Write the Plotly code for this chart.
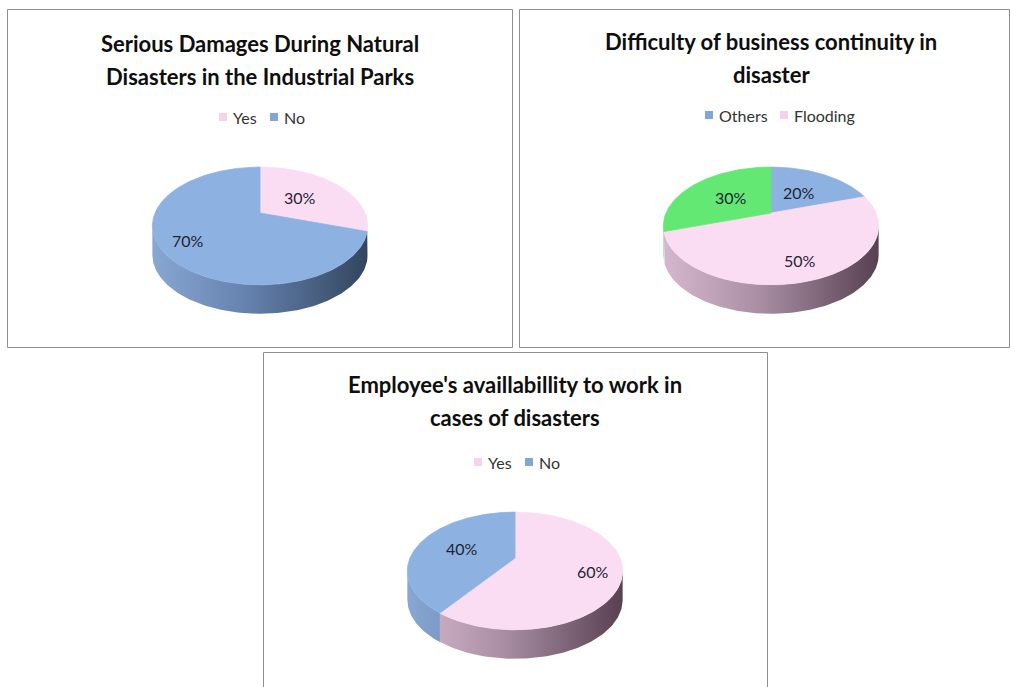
import numpy as np
import plotly.graph_objects as go

# ---------------------------------------------------------------- data
DAMAGE_TITLE = ["Serious Damages During Natural", "Disasters in the Industrial Parks"]
DAMAGE_LABELS = ["Yes", "No"]
DAMAGE_VALUES = [30, 70]

CONTINUITY_TITLE = ["Difficulty of business continuity in", "disaster"]
CONTINUITY_LABELS = ["Others", "Flooding", ""]
CONTINUITY_VALUES = [20, 50, 30]

AVAILABILITY_TITLE = ["Employee's availlabillity to work in", "cases of disasters"]
AVAILABILITY_LABELS = ["Yes", "No"]
AVAILABILITY_VALUES = [60, 40]

# ---------------------------------------------------------------- styles
FACE = {"pink": "#FADCF3", "blue": "#8DB2E1", "green": "#64E874"}
LEGEND_SWATCH = {"pink": "#F6D2EC", "blue": "#7FA6D8", "green": "#64E874"}
SIDE = {
    "pink": [[0, "#D6B8CE"], [0.45, "#A98EA3"], [1, "#574051"]],
    "blue": [[0, "#88A7D2"], [0.45, "#6381AC"], [1, "#33455E"]],
    "green": [[0, "#5CD66A"], [0.45, "#45B052"], [1, "#2C7534"]],
}
DAMAGE_COLORS = ["pink", "blue"]
CONTINUITY_COLORS = ["blue", "pink", "green"]
AVAILABILITY_COLORS = ["pink", "blue"]

TITLE_FONT = dict(family="Lato", size=22, color="#0E0E0E")
LEGEND_FONT = dict(family="Lato", size=16, color="#333333")
LABEL_FONT = dict(family="Lato", size=16, color="#1F2433")
BORDER = "#8E8E8E"

W, H = 1011, 687
# 3-D pie geometry (screen pixels): half-width, half-height, perspective, depth
SX, SY, K, DEPTH = 105, 56, 0.22, 29
SIDE_FROM = np.degrees(np.arccos(-K))
SIDE_TO = 360 - SIDE_FROM

CHARTS = [
    dict(title=DAMAGE_TITLE, labels=DAMAGE_LABELS, values=DAMAGE_VALUES,
         colors=DAMAGE_COLORS, box=(7.5, 9.5, 512.5, 347.5), center=(260, 213),
         title_y=(43, 76), legend_y=117, legend_x=(223, 274), label_r=(0.5, 0.76)),
    dict(title=CONTINUITY_TITLE, labels=CONTINUITY_LABELS, values=CONTINUITY_VALUES,
         colors=CONTINUITY_COLORS, box=(519.5, 9.5, 1009.5, 347.5), center=(771, 213),
         title_y=(41, 74), legend_y=115, legend_x=(709, 784), label_r=(0.5, 0.75, 0.5)),
    dict(title=AVAILABILITY_TITLE, labels=AVAILABILITY_LABELS, values=AVAILABILITY_VALUES,
         colors=AVAILABILITY_COLORS, box=(263.5, 352.5, 767.5, 720), center=(515, 558),
         title_y=(384, 417), legend_y=462, legend_x=(478, 529), label_r=(0.74, 0.55)),
]


def project(cx, cy, u, v, drop=0.0):
    """Perspective projection of a point (u, v) on the unit disk."""
    w = 1 - K * v
    return cx + SX * u / w, cy + SY * v / w + drop


def rim(cx, cy, a0, a1, drop=0.0):
    """Rim points between two angles (degrees clockwise from 12 o'clock)."""
    n = max(int(abs(a1 - a0) / 1.0) + 2, 3)
    t = np.radians(np.linspace(a0, a1, n))
    return project(cx, cy, np.sin(t), -np.cos(t), drop)


fig = go.Figure()
sides, faces, annotations, shapes = [], [], [], []

for ch in CHARTS:
    cx, cy = ch["center"]
    total = float(sum(ch["values"]))
    start = 0.0
    for label, value, color, lr in zip(ch["labels"], ch["values"], ch["colors"], ch["label_r"]):
        sweep = 360.0 * value / total
        a0, a1 = start, start + sweep
        start = a1

        # visible side wall of the slice
        s0, s1 = max(a0, SIDE_FROM), min(a1, SIDE_TO)
        if s1 > s0:
            tx, ty = rim(cx, cy, s0, s1)
            bx, by = rim(cx, cy, s1, s0, drop=DEPTH)
            sides.append(go.Scatter(
                x=np.concatenate([tx, bx, tx[:1]]), y=np.concatenate([ty, by, ty[:1]]),
                mode="lines", line=dict(width=0), fill="toself",
                fillcolor=SIDE[color][1][1],
                fillgradient=dict(type="horizontal", colorscale=SIDE[color],
                                  start=cx - SX * 1.03, stop=cx + SX * 1.03),
                hoverinfo="skip", showlegend=False))

        # top face of the slice
        fx, fy = rim(cx, cy, a0, a1)
        faces.append(go.Scatter(
            x=np.concatenate([[cx], fx, [cx]]), y=np.concatenate([[cy], fy, [cy]]),
            mode="lines", line=dict(width=0.8, color=FACE[color]), fill="toself",
            fillcolor=FACE[color], hoverinfo="skip", showlegend=False))

        # percentage label
        mid = np.radians((a0 + a1) / 2)
        lx, ly = project(cx, cy, lr * np.sin(mid), -lr * np.cos(mid))
        annotations.append(dict(x=lx, y=ly, xref="x", yref="y", showarrow=False,
                                text=f"{100 * value / total:.0f}%", font=LABEL_FONT,
                                xanchor="center", yanchor="middle"))

    # chart title, one annotation per line
    for line, ty in zip(ch["title"], ch["title_y"]):
        annotations.append(dict(x=cx, y=ty, xref="x", yref="y", showarrow=False,
                                text=f"<b>{line}</b>", font=TITLE_FONT,
                                xanchor="center", yanchor="middle"))

    # legend: swatch + text for each named category
    named = [(lab, col) for lab, col in zip(ch["labels"], ch["colors"]) if lab]
    for (lab, col), mx in zip(named, ch["legend_x"]):
        faces.append(go.Scatter(x=[mx], y=[ch["legend_y"]], mode="markers",
                                marker=dict(symbol="square", size=8,
                                            color=LEGEND_SWATCH[col]),
                                hoverinfo="skip", showlegend=False))
        annotations.append(dict(x=mx + 8, y=ch["legend_y"], xref="x", yref="y",
                                showarrow=False, text=lab, font=LEGEND_FONT,
                                xanchor="left", yanchor="middle"))

    # panel frame
    x0, y0, x1, y1 = ch["box"]
    shapes.append(dict(type="rect", xref="x", yref="y", x0=x0, y0=y0, x1=x1, y1=y1,
                       line=dict(color=BORDER, width=1), fillcolor="rgba(0,0,0,0)",
                       layer="below"))

for tr in sides + faces:
    fig.add_trace(tr)

fig.update_layout(
    width=W, height=H,
    margin=dict(l=0, r=0, t=0, b=0),
    paper_bgcolor="white", plot_bgcolor="white",
    xaxis=dict(range=[0, W], visible=False, fixedrange=True),
    yaxis=dict(range=[H, 0], visible=False, fixedrange=True),
    annotations=annotations, shapes=shapes,
    showlegend=False,
)

fig.write_html("out.html")
